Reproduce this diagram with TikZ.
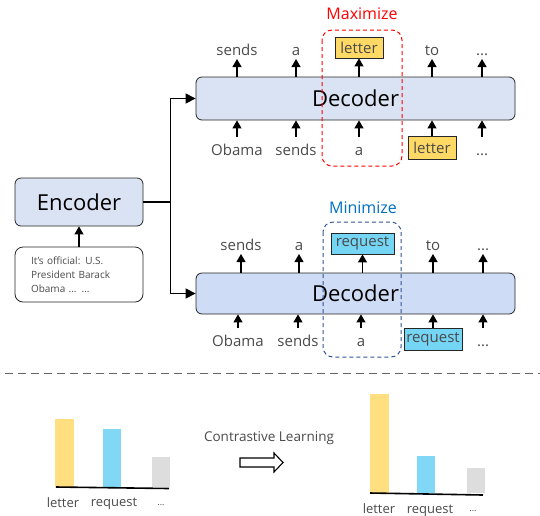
\documentclass[tikz,border=0pt]{standalone}
\usepackage{fontspec}
\setmainfont{Open Sans}
\usetikzlibrary{arrows.meta}
\definecolor{boxblue}{HTML}{DAE3F3}
\definecolor{boxblueb}{HTML}{CFDCF5}
\definecolor{tokyellow}{HTML}{FFD966}
\definecolor{baryellow}{HTML}{FFDF80}
\definecolor{tokblue}{HTML}{75D5F5}
\definecolor{barblue}{HTML}{80D8F6}
\definecolor{bargray}{HTML}{DDDDDD}
\definecolor{txt}{HTML}{4A4A4A}
\definecolor{maxred}{HTML}{FF0000}
\definecolor{minblue}{HTML}{0070C0}
\definecolor{dashblue}{HTML}{2F5597}
\begin{document}
\begin{tikzpicture}[x=1pt,y=-1pt,
  block/.style={draw=black!85, rounded corners=6pt, fill=boxblue, line width=0.8pt, inner sep=0pt},
  tok/.style={font=\fontsize{15}{15}\selectfont, text=txt, inner sep=0pt, anchor=base},
  small/.style={font=\fontsize{13}{13}\selectfont, text=txt, inner sep=0pt, anchor=base},
  tokbox/.style={draw=black!85, line width=0.8pt, font=\fontsize{15}{15}\selectfont, text=txt, inner sep=0pt},
  arr/.style={-{Triangle[length=8pt,width=9pt]}, line width=1.1pt},
  conn/.style={-{Triangle[length=10pt,width=10pt]}, line width=1.1pt},
]
\useasboundingbox (0,0) rectangle (540,515);

% Encoder and input text
\node[block, minimum width=128pt, minimum height=48pt, font=\fontsize{22}{22}\selectfont] (enc) at (79,202) {Encoder};
\node[draw=black!85, rounded corners=8pt, line width=0.8pt, fill=white, minimum width=128pt, minimum height=55pt,
      text width=96pt, inner xsep=16pt, align=left, font=\fontsize{10}{14}\selectfont, text=txt] (inp) at (79,274.5)
      {It's official: U.S.\\President Barack\\Obama ... ...};
\draw[arr] (inp.north) -- (enc.south);

% Decoders
\node[block, minimum width=319pt, minimum height=43pt, font=\fontsize{22}{22}\selectfont] (dec1) at (355.5,98.5) {Decoder};
\node[block, fill=boxblueb, minimum width=319pt, minimum height=41pt, font=\fontsize{22}{22}\selectfont] (dec2) at (355.5,293.5) {Decoder};
\draw[conn] (enc.east) -- ++(27,0) coordinate (split) |- (dec1.west);
\draw[conn] (split) |- (dec2.west);

% Decoder 1 tokens
\node[tok] (o11) at (237,55) {sends};
\node[tok] (o12) at (296,55) {a};
\node[tokbox, fill=tokyellow, minimum width=48pt, minimum height=21pt] (o13) at (359,47.5) {letter};
\node[tok] (o14) at (432,55) {to};
\node[tok] (o15) at (482,55) {...};
\foreach \i/\x in {1/237,2/296,4/432,5/482}{
  \coordinate (h1\i) at (\x,59);
  \draw[arr] (dec1.north -| h1\i) -- (h1\i);
}
\draw[arr] (dec1.north -| o13) -- (o13.south);

\node[tok] (i11) at (237,155) {Obama};
\node[tok] (i12) at (296,155) {sends};
\node[tok] (i13) at (359,155) {a};
\node[tokbox, fill=tokyellow, minimum width=48pt, minimum height=23pt] (i14) at (432,147.5) {letter};
\node[tok] (i15) at (482,155) {...};
\foreach \i/\x in {1/237,2/296,3/359,5/482}{
  \coordinate (g1\i) at (\x,137);
  \draw[arr] (g1\i) -- (dec1.south -| g1\i);
}
\draw[arr] (i14.north) -- (dec1.south -| i14);

\draw[maxred, line width=1pt, rounded corners=10pt, dash pattern=on 4pt off 3pt] (322,30) rectangle (402,166);
\node[font=\fontsize{16}{16}\selectfont, text=maxred] (max) at (362,14) {Maximize};

% Decoder 2 tokens
\node[tok] (o21) at (241,250) {sends};
\node[tok] (o22) at (299,250) {a};
\node[tokbox, fill=tokblue, minimum width=63pt, minimum height=21pt] (o23) at (362.5,243.5) {request};
\node[tok] (o24) at (433,250) {to};
\node[tok] (o25) at (483,250) {...};
\foreach \i/\x in {1/241,2/299,4/433,5/483}{
  \coordinate (h2\i) at (\x,254);
  \draw[arr] (dec2.north -| h2\i) -- (h2\i);
}
\draw[arr] (dec2.north -| o23) -- (o23.south);

\node[tok] (i21) at (238,346) {Obama};
\node[tok] (i22) at (298,346) {sends};
\node[tok] (i23) at (361,346) {a};
\node[tokbox, fill=tokblue, minimum width=58pt, minimum height=22pt] (i24) at (433,339) {request};
\node[tok] (i25) at (483,346) {...};
\foreach \i/\x in {1/238,2/298,3/361,5/483}{
  \coordinate (g2\i) at (\x,328);
  \draw[arr] (g2\i) -- (dec2.south -| g2\i);
}
\draw[arr] (i24.north) -- (dec2.south -| i24);

\draw[dashblue, line width=1pt, rounded corners=10pt, dash pattern=on 4pt off 3pt] (323,222) rectangle (401,357);
\node[font=\fontsize{16}{16}\selectfont, text=minblue] (min) at (363,208) {Minimize};

% separator
\draw[black!60, line width=1pt, dash pattern=on 8pt off 5pt] (5,373) -- (540,373);

% left chart
\fill[baryellow] (55,419) rectangle (74,487);
\fill[barblue] (103,429) rectangle (121,487);
\fill[bargray] (152,457) rectangle (170,487);
\draw[line width=1.6pt] (56,487) -- (169,488.5);
\node[small] (l1) at (63,507) {letter};
\node[small] (l2) at (114,506) {request};
\node[small, font=\fontsize{9}{9}\selectfont] (l3) at (161,505) {...};

% arrow and label
\node[font=\fontsize{13.5}{13.5}\selectfont, text=txt] (cl) at (269,438) {Contrastive Learning};
\draw[line width=1.1pt, fill=white] (240,458) -- (274,458) -- (274,453) -- (283,462.5) -- (274,472) -- (274,467) -- (240,467) -- cycle;

% right chart
\fill[baryellow] (370,394) rectangle (389,493);
\fill[barblue] (417,456) rectangle (435,493);
\fill[bargray] (467,468) rectangle (485,493);
\draw[line width=1.6pt] (370,493) -- (483,495);
\node[small] (r1) at (379,513) {letter};
\node[small] (r2) at (430,513) {request};
\node[small, font=\fontsize{9}{9}\selectfont] (r3) at (473,511) {...};
\end{tikzpicture}
\end{document}
